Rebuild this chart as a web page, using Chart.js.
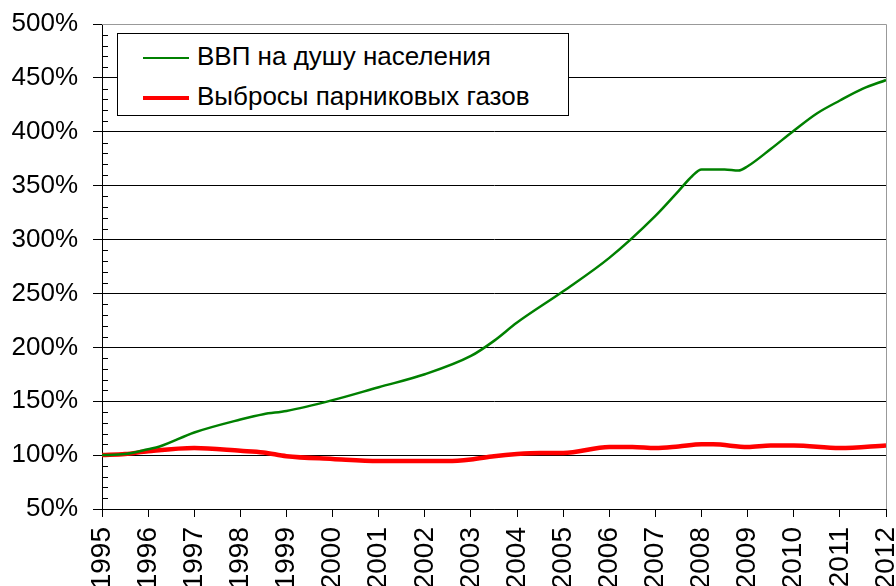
<!DOCTYPE html>
<html lang="ru">
<head>
  <meta charset="UTF-8" />
  <title>ВВП и выбросы</title>
  <script src="https://cdn.jsdelivr.net/npm/chart.js"></script>
  <style>
    html, body { margin: 0; padding: 0; background: #fff; overflow: hidden; }
    #wrap { position: relative; width: 896px; height: 586px; }
    #legend {
      position: absolute; left: 117px; top: 33px; width: 450px; height: 81px;
      border: 1px solid #000; background: #fff;
      font-family: 'Liberation Sans', Arial, sans-serif; font-size: 26px; color: #000;
    }
    .row { position: absolute; left: 25px; height: 30px; line-height: 30px; white-space: nowrap; }
    .row i { display: inline-block; width: 46px; vertical-align: middle; margin-right: 8px; }
  </style>
</head>
<body>
  <div id="wrap">
    <canvas id="chart" width="896" height="586"></canvas>
    <div id="legend"></div>
  </div>
  <script>
    // ВВП на душу населения, % к 1995
    const gdpYears = [1995, 1995.5, 1996, 1996.25, 1997, 1998, 1998.5, 1999, 2000, 2001, 2002, 2003, 2003.5,
      2004, 2005, 2006, 2007, 2007.5, 2007.8, 2008, 2008.5, 2008.8, 2009, 2009.5, 2010, 2010.5, 2011, 2011.5, 2012];
    const gdpValues = [100, 101, 105.5, 108, 121, 133, 138, 141, 151, 163, 175, 192, 206,
      223, 252, 283, 322, 345, 359, 365, 365, 364, 368, 384, 401, 417, 429, 440, 448];

    // Выбросы парниковых газов, % к 1995
    const ghgYears = [1995, 1995.5, 1996, 1997, 1998, 1998.5, 1999, 2000, 2001, 2002, 2002.5, 2003, 2003.5,
      2004, 2004.5, 2005, 2006, 2006.5, 2007, 2007.5, 2008, 2008.25, 2009, 2009.5, 2010, 2011, 2012];
    const ghgValues = [100, 101, 103.5, 106.5, 104, 102.5, 99, 96.5, 94.5, 94.5, 94.5, 96, 99,
      101, 102, 102, 107.5, 107.5, 106.5, 108, 110, 110, 107.5, 109, 109, 106.5, 109];

    const seriesLabels = ['ВВП на душу населения', 'Выбросы парниковых газов'];
    const seriesColors = ['#008000', '#ff0000'];
    const seriesWidths = [2.5, 4.5];

    const toPoints = (xs, ys) => xs.map((x, i) => ({ x: x, y: ys[i] }));

    // minor ticks inside the y axis + gray frame on top/right
    const framePlugin = {
      id: 'frame',
      afterDraw(chart) {
        const { ctx, chartArea: a, scales } = chart;
        const y = scales.y;
        ctx.save();
        ctx.strokeStyle = '#000';
        ctx.lineWidth = 1;
        for (let v = 60; v < 500; v += 10) {
          if (v % 50 === 0) continue;
          const py = Math.round(y.getPixelForValue(v)) + 0.5;
          ctx.beginPath();
          ctx.moveTo(a.left, py);
          ctx.lineTo(a.left + 6, py);
          ctx.stroke();
        }
        ctx.strokeStyle = '#999';
        ctx.beginPath();
        ctx.moveTo(a.left, a.top + 0.5);
        ctx.lineTo(a.right + 0.5, a.top + 0.5);
        ctx.lineTo(a.right + 0.5, a.bottom);
        ctx.stroke();
        ctx.restore();
      }
    };

    const chart = new Chart(document.getElementById('chart'), {
      type: 'line',
      data: {
        datasets: [
          { label: seriesLabels[0], data: toPoints(gdpYears, gdpValues), borderColor: seriesColors[0],
            borderWidth: seriesWidths[0], pointRadius: 0, cubicInterpolationMode: 'monotone', fill: false },
          { label: seriesLabels[1], data: toPoints(ghgYears, ghgValues), borderColor: seriesColors[1],
            borderWidth: seriesWidths[1], pointRadius: 0, cubicInterpolationMode: 'monotone', fill: false }
        ]
      },
      options: {
        responsive: false,
        animation: false,
        layout: { padding: { top: 24, right: 10, left: 0, bottom: 0 } },
        plugins: { legend: { display: false }, tooltip: { enabled: false } },
        scales: {
          x: {
            type: 'linear', min: 1995, max: 2012,
            afterFit: s => { s.height = 77; s.paddingLeft = 0; s.paddingRight = 0; },
            ticks: {
              stepSize: 1, autoSkip: false, minRotation: 90, maxRotation: 90, padding: 10,
              color: '#000', font: { family: 'Liberation Sans', size: 28 },
              callback: v => String(v)
            },
            grid: { drawOnChartArea: false, drawTicks: true, tickLength: 8, color: '#000' },
            border: { color: '#000', width: 1 }
          },
          y: {
            min: 50, max: 500,
            afterFit: s => { s.width = 102; s.paddingTop = 0; s.paddingBottom = 0; },
            ticks: {
              stepSize: 10, autoSkip: false, padding: 15, color: '#000',
              font: { family: 'Liberation Sans', size: 26 },
              callback: v => (v % 50 === 0 ? v + '%' : '')
            },
            grid: {
              color: c => (c.tick && c.tick.value % 50 === 0 ? (c.tick.value === 500 ? '#999' : '#000') : 'transparent'),
              tickColor: c => (c.tick && c.tick.value % 50 === 0 ? '#000' : 'transparent'),
              tickLength: 9, lineWidth: 1
            },
            border: { color: '#000', width: 1 }
          }
        }
      },
      plugins: [framePlugin]
    });

    // legend from datasets
    const legend = document.getElementById('legend');
    chart.data.datasets.forEach((ds, i) => {
      const row = document.createElement('div');
      row.className = 'row';
      row.style.top = (7 + i * 40) + 'px';
      row.innerHTML = '<i style="border-top:' + ds.borderWidth + 'px solid ' + ds.borderColor + '"></i>' + ds.label;
      legend.appendChild(row);
    });
  </script>
</body>
</html>
